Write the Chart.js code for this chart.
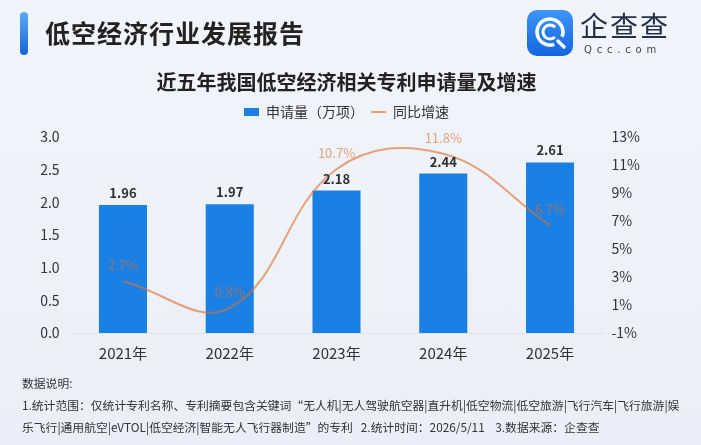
<!DOCTYPE html>
<html lang="zh-CN">
<head>
<meta charset="utf-8">
<title>低空经济行业发展报告</title>
<script src="https://cdn.jsdelivr.net/npm/chart.js@4.4.1/dist/chart.umd.min.js"></script>
<style>
  html, body { margin: 0; padding: 0; }
  body {
    width: 701px; height: 445px; position: relative; overflow: hidden;
    background: linear-gradient(180deg, #f1f4fa 0%, #edf1f9 60%, #e9eef8 100%);
    font-family: "Noto Sans CJK SC", "Noto Sans", sans-serif; color: #333;
  }
  #chartBox { position: absolute; left: 0; top: 0; width: 701px; height: 445px; }
  .mark {
    position: absolute; left: 20px; top: 12px; width: 8px; height: 43px; border-radius: 4px;
    background: linear-gradient(180deg, #5aaaf7, #1466dc);
  }
  .head-title {
    position: absolute; left: 45px; top: 14px; font-size: 25px; font-weight: 700;
    color: #222; line-height: 36px; letter-spacing: 1px;
  }
  .logo { position: absolute; left: 527px; top: 10px; width: 46px; height: 46px; }
  .logo-name {
    position: absolute; left: 580px; top: 6px; font-size: 28px; line-height: 38px;
    color: #243049; letter-spacing: 2px;
  }
  .logo-url {
    position: absolute; left: 584px; top: 43px; font-size: 10px; line-height: 14px;
    color: #444; letter-spacing: 4.8px; font-family: "DejaVu Sans", sans-serif;
  }
  .note {
    position: absolute; left: 22px; top: 372px; font-size: 11.8px; line-height: 22px;
    color: #333; white-space: nowrap;
  }
</style>
</head>
<body>
<div id="chartBox"><canvas id="patentChart"></canvas></div>

<div class="mark"></div>
<div class="head-title">低空经济行业发展报告</div>

<svg class="logo" viewBox="0 0 46 46">
  <defs>
    <linearGradient id="lg" x1="0" y1="0" x2="0" y2="1">
      <stop offset="0" stop-color="#3d95f8"/>
      <stop offset="1" stop-color="#1466df"/>
    </linearGradient>
  </defs>
  <rect x="0" y="0" width="46" height="46" rx="10" fill="url(#lg)"/>
  <circle cx="23" cy="22" r="13" fill="none" stroke="#fff" stroke-width="3.5"
          stroke-dasharray="70 11.7" transform="rotate(71 23 22)"/>
  <path d="M31 31 L37 37" stroke="#fff" stroke-width="3.5" stroke-linecap="round"/>
  <circle cx="23" cy="22" r="7" fill="none" stroke="#fff" stroke-width="3"
          stroke-dasharray="33 11" transform="rotate(45 23 22)"/>
</svg>
<div class="logo-name">企查查</div>
<div class="logo-url">Qcc.com</div>

<div class="note">
  数据说明:<br>
  1.统计范围：仅统计专利名称、专利摘要包含关键词“无人机|无人驾驶航空器|直升机|低空物流|低空旅游|飞行汽车|飞行旅游|娱<br>
  乐飞行|通用航空|eVTOL|低空经济|智能无人飞行器制造”的专利&nbsp;&nbsp;&nbsp;2.统计时间：2026/5/11&nbsp;&nbsp;&nbsp;&nbsp;3.数据来源：企查查
</div>

<script>
// 数据
const years = ['2021年', '2022年', '2023年', '2024年', '2025年'];
const applyCounts = [1.96, 1.97, 2.18, 2.44, 2.61];   // 申请量（万项）
const growthRates = [2.7, 0.8, 10.7, 11.8, 6.7];      // 同比增速 %
const leftTickLabels = ['0.0', '0.5', '1.0', '1.5', '2.0', '2.5', '3.0'];
const rightTickLabels = ['-1%', '1%', '3%', '5%', '7%', '9%', '11%', '13%'];

const fontFamily = '"Noto Sans CJK SC", "Noto Sans", sans-serif';
const orange = 'rgba(224, 112, 42, 0.62)';
Chart.defaults.font.family = fontFamily;
Chart.defaults.color = '#333';

// 柱子上的数值 + 折线上的百分比
const valueLabels = {
  id: 'valueLabels',
  afterDatasetsDraw(chart) {
    const ctx = chart.ctx;
    ctx.save();
    ctx.textAlign = 'center';
    ctx.textBaseline = 'middle';

    ctx.font = '600 13px ' + fontFamily;
    ctx.fillStyle = '#2f2f2f';
    chart.getDatasetMeta(0).data.forEach((bar, i) => {
      ctx.fillText(applyCounts[i].toFixed(2), bar.x, bar.y - 12);
    });

    ctx.font = '13px ' + fontFamily;
    ctx.fillStyle = orange;
    chart.getDatasetMeta(1).data.forEach((pt, i) => {
      ctx.fillText(growthRates[i].toFixed(1) + '%', pt.x, pt.y - 16);
    });
    ctx.restore();
  }
};

// 图例下面多留一点空
const legendGap = {
  id: 'legendGap',
  beforeInit(chart) {
    const fit = chart.legend.fit;
    chart.legend.fit = function () {
      fit.bind(chart.legend)();
      this.height += 8;
    };
  }
};

new Chart(document.getElementById('patentChart'), {
  data: {
    labels: years,
    datasets: [
      {
        type: 'bar',
        label: '申请量（万项）',
        data: applyCounts,
        backgroundColor: '#1a80e3',
        borderWidth: 0,
        barPercentage: 0.45,
        categoryPercentage: 1,
        yAxisID: 'y',
        order: 2
      },
      {
        type: 'line',
        label: '同比增速',
        data: growthRates,
        borderColor: orange,
        backgroundColor: orange,
        borderWidth: 2,
        pointRadius: 0,
        tension: 0.4,
        yAxisID: 'y1',
        order: 1
      }
    ]
  },
  options: {
    responsive: true,
    maintainAspectRatio: false,
    animation: false,
    layout: { padding: { top: 56, left: 0, right: 8, bottom: 82 } },
    plugins: {
      title: {
        display: true,
        text: '近五年我国低空经济相关专利申请量及增速',
        color: '#222',
        font: { size: 20, weight: 'bold' },
        padding: { top: 14, bottom: 4 }
      },
      legend: {
        labels: {
          color: '#333',
          font: { size: 14 },
          usePointStyle: true,
          pointStyleWidth: 15,
          boxWidth: 15,
          boxHeight: 8,
          padding: 7,
          sort: (a, b) => a.datasetIndex - b.datasetIndex,
          generateLabels(chart) {
            const items = Chart.defaults.plugins.legend.labels.generateLabels(chart);
            items.forEach(it => {
              it.pointStyle = chart.data.datasets[it.datasetIndex].type === 'bar' ? 'rect' : 'line';
            });
            return items;
          }
        }
      },
      tooltip: { enabled: false }
    },
    scales: {
      x: {
        grid: { display: false, drawTicks: false },
        border: { display: true, color: '#dfe3ea', width: 1 },
        ticks: { color: '#333', font: { size: 15 }, padding: 11 },
        afterFit(scale) { scale.height = 30; }
      },
      y: {
        position: 'left',
        min: 0,
        max: 3,
        grid: { display: false, drawTicks: false },
        border: { display: false },
        ticks: {
          stepSize: 0.5,
          color: '#333',
          font: { size: 14 },
          padding: 10,
          callback: (v, i) => leftTickLabels[i]
        },
        afterFit(scale) { scale.width = 69.6; }
      },
      y1: {
        position: 'right',
        min: -1,
        max: 13,
        grid: { display: false, drawTicks: false },
        border: { display: false },
        ticks: {
          stepSize: 2,
          color: '#333',
          font: { size: 14 },
          padding: 8,
          callback: (v, i) => rightTickLabels[i]
        },
        afterFit(scale) { scale.width = 89.6; }
      }
    }
  },
  plugins: [valueLabels, legendGap]
});
</script>
</body>
</html>
